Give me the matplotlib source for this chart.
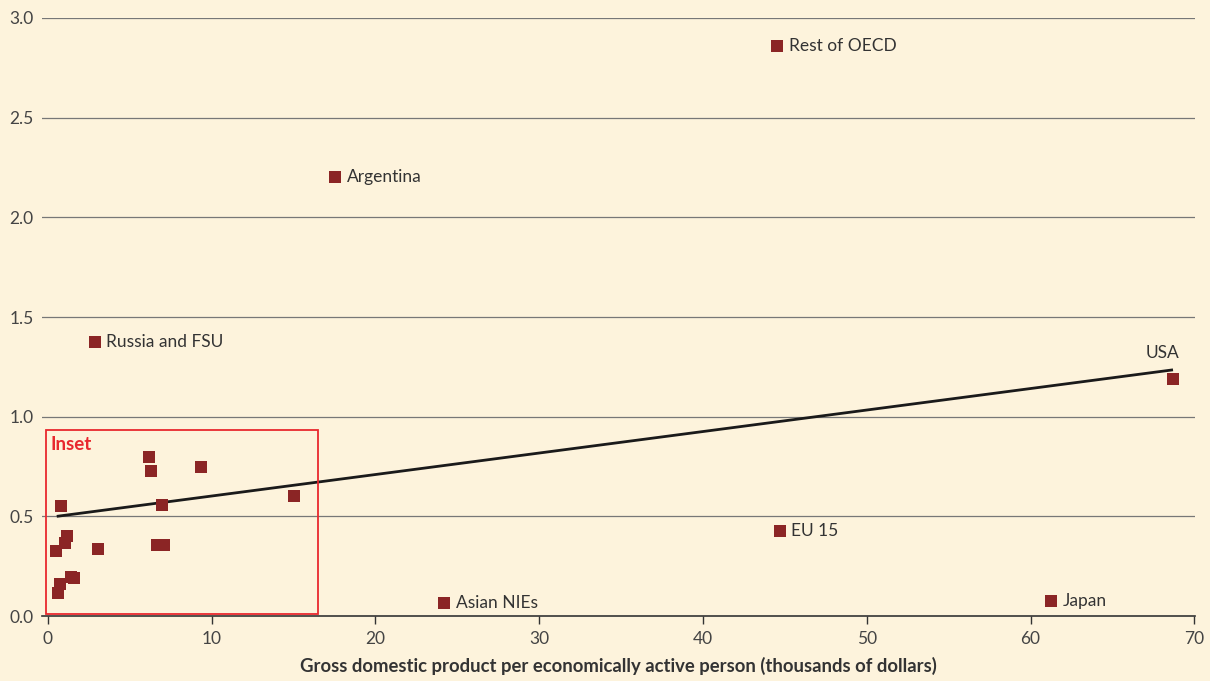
import matplotlib
matplotlib.use("Agg")
import matplotlib.pyplot as plt
from matplotlib.patches import Rectangle

plt.rcParams['font.family'] = ['Lato', 'DejaVu Sans']

# Labelled countries / regions
labelled_names = ["Rest of OECD", "Argentina", "Russia and FSU", "USA", "EU 15", "Japan", "Asian NIEs"]
labelled_x = [44.55, 17.56, 2.88, 68.7, 44.7, 61.25, 24.2]
labelled_y = [2.86, 2.20, 1.375, 1.19, 0.425, 0.075, 0.065]

# Unlabelled (inset) points
inset_x = [6.18, 6.30, 9.36, 15.05, 0.80, 6.98, 0.49, 1.16, 1.04, 3.06, 6.67, 7.10, 1.41, 1.59, 0.73, 0.61]
inset_y = [0.80, 0.73, 0.75, 0.60, 0.55, 0.557, 0.326, 0.40, 0.366, 0.336, 0.356, 0.356, 0.196, 0.19, 0.16, 0.115]

# Trend line endpoints
trend_x = [0.55, 68.7]
trend_y = [0.50, 1.235]

x_ticks = [0, 10, 20, 30, 40, 50, 60, 70]
y_ticks = [0.0, 0.5, 1.0, 1.5, 2.0, 2.5, 3.0]
x_label = "Gross domestic product per economically active person (thousands of dollars)"

bg = "#FDF3DC"
mark = "#8B2525"

fig = plt.figure(figsize=(12.1, 6.81), dpi=100, facecolor=bg)
ax = fig.add_axes([0.0347, 0.0954, 0.9530, 0.8782], facecolor=bg)

ax.set_xlim(-0.35, 70.05)
ax.set_ylim(0, 3.0)

for yv in y_ticks[1:]:
    ax.axhline(yv, color="#777777", lw=0.9, zorder=1)

ax.plot(trend_x, trend_y, color="#1a1a1a", lw=2, zorder=3, solid_capstyle='butt')

ax.scatter(labelled_x + inset_x, labelled_y + inset_y, marker='s', s=85,
           color=mark, linewidths=0, zorder=4)

for n, xv, yv in zip(labelled_names, labelled_x, labelled_y):
    if n == "USA":
        ax.text(xv - 0.65, yv + 0.09, n, fontsize=12.5, color="#333333", ha='center', va='bottom')
    else:
        ax.text(xv + 0.7, yv, n, fontsize=12.5, color="#333333", ha='left', va='center')

rect = Rectangle((-0.12, 0.01), 16.64, 0.925, fill=False, edgecolor="#E8282E", lw=1.3, zorder=5)
ax.add_patch(rect)
ax.text(0.2, 0.905, "Inset", color="#E8282E", fontsize=13.5, fontweight='bold', va='top', ha='left', zorder=5)

for s in ['top', 'right', 'left']:
    ax.spines[s].set_visible(False)
ax.spines['bottom'].set_color("#333333")
ax.spines['bottom'].set_linewidth(1.2)

ax.set_xticks(x_ticks)
ax.set_xticklabels([str(v) for v in x_ticks])
ax.set_yticks(y_ticks)
ax.set_yticklabels([f"{v:.1f}" for v in y_ticks])
ax.tick_params(axis='x', direction='out', length=6, width=1, color="#333333",
               labelsize=12.5, labelcolor="#444444", pad=5)
ax.tick_params(axis='y', length=0, labelsize=12.5, labelcolor="#444444", pad=6)

ax.set_xlabel(x_label, fontsize=13.3, fontweight='bold', color="#333333", labelpad=7)

fig.savefig("out.png", dpi=100, facecolor=bg)
